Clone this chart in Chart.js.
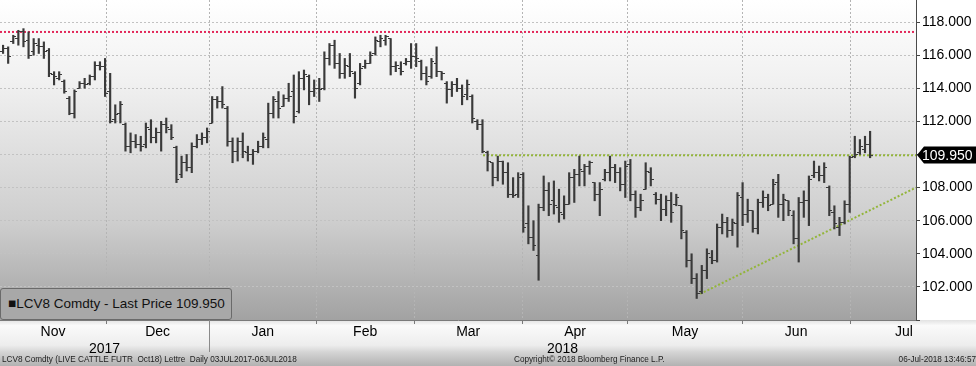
<!DOCTYPE html>
<html lang="fr">
<head>
<meta charset="utf-8">
<title>LCV8 Comdty</title>
<script src="https://cdn.jsdelivr.net/npm/chart.js@4.4.1/dist/chart.umd.min.js"></script>
<style>
  html, body { margin: 0; padding: 0; background: #fff; }
  #wrap { position: relative; width: 976px; height: 366px; overflow: hidden; font-family: "Liberation Sans", Arial, sans-serif; }
  #chart { position: absolute; left: 0; top: 0; }
  #legend { position: absolute; left: 0; top: 288px; width: 232px; height: 32px; box-sizing: border-box; background: #a8a8a8; border: 1px solid #6a6a6a; border-radius: 3px; font-size: 13.5px; line-height: 30px; padding-left: 7px; color: #111; white-space: nowrap; }
  .foot { position: absolute; top: 355px; font-size: 8.2px; line-height: 10px; color: #222; white-space: pre; }
</style>
</head>
<body>
<div id="wrap">
  <canvas id="chart" width="976" height="366"></canvas>
  <div id="legend"></div>
  <div class="foot" style="left:2px">LCV8 Comdty (LIVE CATTLE FUTR  Oct18) Lettre  Daily 03JUL2017-06JUL2018</div>
  <div class="foot" style="left:514px">Copyright© 2018 Bloomberg Finance L.P.</div>
  <div class="foot" style="right:0">06-Jul-2018 13:46:57</div>
</div>
<script>
// Cours journaliers LCV8 (une barre par séance, x = indice de séance)
var opens = [
  116.2, 116.4, 116.8, 117.0, 117.4, 116.9, 116.2, 116.6, 116.5, 116.3,
  114.8, 114.6, 114.4, 113.4, 112.5, 114.0, 114.3, 114.3, 114.7, 115.4,
  115.3, 113.8, 112.1, 112.5, 111.8, 110.5, 110.8, 110.6, 110.6, 111.5,
  111.0, 111.3, 111.8, 111.5, 110.4, 108.8, 109.5, 109.2, 110.5, 110.9,
  111.0, 111.9, 113.3, 113.2, 112.8, 110.8, 110.2, 110.8, 110.1, 110.0,
  110.2, 110.5, 110.9, 112.5, 113.2, 112.9, 113.4, 113.8, 112.6, 114.6,
  114.7, 113.8, 114.0, 114.0, 115.8, 116.6, 115.5, 114.9, 115.3, 114.9,
  114.3, 115.3, 115.5, 116.1, 116.8, 116.9, 117.0, 115.3, 115.2, 115.5,
  115.6, 115.9, 115.6, 114.9, 114.7, 115.5, 115.0, 114.3, 113.9, 114.2,
  114.0, 113.6, 113.5, 112.0, 111.8, 110.1, 109.5, 108.6, 109.6, 108.9,
  107.6, 107.6, 108.8, 105.8, 105.0, 103.9, 106.8, 107.8, 107.2, 106.8,
  106.4, 107.0, 108.6, 108.8, 109.0, 109.3, 108.3, 107.6, 108.5, 108.9,
  109.2, 108.9, 108.2, 109.4, 107.6, 106.8, 107.9, 108.9, 107.6, 107.3,
  106.7, 107.2, 107.0, 106.9, 105.3, 103.6, 102.5, 101.7, 103.0, 103.8,
  103.6, 105.6, 105.9, 105.4, 105.8, 107.4, 106.4, 106.6, 105.5, 107.1,
  107.4, 107.0, 108.3, 107.0, 107.2, 106.3, 104.9, 107.1, 107.2, 108.7,
  108.9, 108.7, 108.0, 106.5, 105.6, 105.9, 107.0, 109.9, 110.1, 110.3,
  110.6
];
var highs = [
  116.6, 116.5, 117.2, 117.5, 117.6, 117.4, 117.0, 117.0, 116.8, 116.4,
  115.0, 115.0, 114.5, 113.5, 113.9, 114.4, 114.6, 114.8, 115.6, 115.6,
  115.8, 114.9, 113.0, 113.2, 111.9, 111.3, 111.2, 111.1, 111.9, 112.1,
  111.6, 112.0, 112.2, 111.8, 110.5, 109.9, 110.0, 110.7, 111.2, 111.3,
  111.6, 113.5, 113.5, 114.1, 112.9, 111.0, 111.0, 111.3, 110.5, 110.3,
  110.8, 111.3, 113.1, 113.5, 113.8, 113.6, 114.3, 114.8, 115.0, 115.1,
  114.8, 114.5, 114.6, 116.2, 116.7, 116.9, 116.1, 115.8, 116.1, 115.0,
  115.5, 115.7, 116.2, 117.1, 117.2, 117.2, 117.0, 115.6, 115.6, 115.8,
  116.7, 116.7, 115.7, 115.3, 115.8, 116.5, 115.0, 114.4, 114.4, 114.6,
  114.2, 114.5, 113.6, 112.1, 112.1, 110.2, 109.5, 109.9, 109.6, 109.5,
  108.6, 108.9, 108.9, 106.9, 106.0, 107.0, 108.7, 108.3, 108.4, 107.9,
  107.5, 108.9, 109.1, 109.9, 109.4, 109.6, 108.3, 108.3, 109.1, 109.9,
  109.4, 109.2, 109.6, 109.7, 107.8, 107.6, 109.5, 109.2, 107.7, 107.6,
  107.5, 107.7, 107.6, 106.9, 105.4, 104.0, 102.8, 103.3, 104.3, 104.2,
  105.8, 106.4, 106.2, 106.1, 107.7, 108.3, 107.3, 106.6, 107.3, 107.8,
  107.6, 108.5, 108.8, 107.6, 107.2, 106.6, 107.4, 107.8, 108.7, 109.6,
  109.3, 109.5, 108.1, 106.9, 106.2, 107.2, 109.9, 111.1, 110.9, 111.1,
  111.4
];
var lows = [
  116.1, 115.5, 116.7, 116.6, 116.5, 115.8, 116.0, 116.1, 115.8, 114.7,
  114.2, 114.5, 113.7, 112.4, 112.2, 114.0, 114.0, 114.2, 114.5, 115.1,
  113.5, 111.9, 111.9, 111.9, 110.2, 110.1, 110.4, 110.2, 110.4, 110.7,
  110.7, 110.2, 111.3, 110.9, 108.3, 108.6, 109.0, 108.9, 110.4, 110.6,
  110.7, 111.9, 112.8, 112.8, 110.5, 109.5, 109.6, 109.8, 109.6, 109.4,
  110.1, 110.4, 110.4, 112.2, 112.2, 112.9, 113.2, 111.9, 112.5, 113.9,
  113.0, 113.5, 113.2, 113.9, 115.4, 115.2, 114.6, 114.6, 114.7, 113.4,
  114.2, 115.2, 115.5, 116.0, 116.5, 116.6, 114.8, 115.0, 114.8, 115.4,
  115.2, 115.3, 114.5, 114.2, 114.6, 114.7, 114.5, 113.1, 113.5, 113.8,
  113.0, 113.3, 111.9, 111.5, 110.1, 109.0, 108.1, 108.4, 108.2, 107.4,
  107.4, 107.4, 105.3, 104.6, 104.2, 102.4, 106.6, 106.3, 106.4, 105.9,
  106.1, 107.0, 107.1, 108.1, 108.1, 108.8, 107.2, 106.3, 108.4, 108.4,
  108.3, 107.8, 107.4, 107.2, 106.2, 106.6, 107.9, 108.1, 107.0, 106.0,
  106.3, 105.9, 106.9, 104.9, 103.2, 102.2, 101.3, 101.6, 102.5, 103.4,
  103.5, 105.2, 105.0, 105.1, 104.4, 105.7, 105.9, 105.3, 105.2, 106.8,
  106.6, 107.0, 106.2, 106.0, 106.3, 104.6, 103.5, 106.2, 105.7, 108.6,
  108.4, 108.3, 106.3, 105.5, 105.1, 105.8, 106.5, 109.8, 110.0, 110.1,
  109.8
];
var closes = [
  116.4, 115.9, 117.1, 117.4, 116.8, 116.0, 116.7, 116.5, 116.2, 114.9,
  114.7, 114.8, 113.8, 112.5, 113.8, 114.3, 114.2, 114.7, 115.4, 115.3,
  113.7, 112.0, 112.4, 113.0, 110.5, 110.8, 110.6, 110.5, 111.6, 111.0,
  111.3, 111.8, 111.6, 111.0, 108.5, 109.5, 109.2, 110.5, 110.9, 111.0,
  111.4, 113.3, 113.2, 113.0, 110.8, 110.2, 110.8, 110.2, 110.0, 110.2,
  110.5, 111.0, 112.5, 113.3, 112.8, 113.4, 113.5, 112.3, 114.6, 114.8,
  113.8, 114.0, 113.9, 115.8, 116.6, 115.5, 114.9, 115.4, 115.0, 114.0,
  115.2, 115.5, 116.0, 116.9, 117.0, 117.1, 115.3, 115.4, 115.0, 115.6,
  115.9, 115.8, 114.9, 114.4, 115.6, 115.0, 114.9, 113.9, 114.2, 114.0,
  113.5, 114.2, 112.2, 111.8, 110.2, 109.6, 108.6, 109.6, 108.9, 107.6,
  107.5, 108.6, 105.6, 105.0, 104.5, 106.8, 107.8, 107.0, 106.9, 106.5,
  107.0, 108.6, 108.8, 109.1, 109.3, 109.5, 107.6, 107.9, 108.9, 109.2,
  108.9, 108.2, 109.3, 107.6, 106.8, 107.2, 109.0, 108.5, 107.3, 106.7,
  107.2, 106.5, 107.4, 105.4, 103.6, 102.5, 101.6, 103.0, 104.0, 103.6,
  105.6, 105.9, 105.4, 105.9, 107.5, 106.4, 106.6, 105.5, 107.1, 107.4,
  106.9, 108.2, 107.0, 107.3, 106.6, 104.9, 107.1, 107.2, 108.5, 108.9,
  108.7, 109.2, 106.6, 105.8, 105.9, 107.0, 109.8, 110.0, 110.5, 110.6,
  109.95
];

// Axe x : débuts de mois et d'année, en indice de séance
var axisStart = -0.6;
var axisEnd = 179;
var monthNames = ["Nov", "Dec", "Jan", "Feb", "Mar", "Apr", "May", "Jun", "Jul"];
var monthStarts = [-0.6, 20.2, 40.4, 61.4, 80.6, 101.8, 122.5, 144.9, 166.1, 187.2];
var yearNames = ["2017", "2018"];
var yearStarts = [-0.6, 40.4, 179];

// Axe y
var yMin = 100;
var yMax = 119.33;
var yLabelled = [102, 104, 106, 108, 110, 112, 114, 116, 118];

// Lignes tracées sur le graphique
var resistX = [-0.6, 179];
var resistY = [117.4, 117.4];
var necklineX = [94.1, 179];
var necklineY = [109.95, 109.95];
var trendX = [136.7, 179];
var trendY = [101.58, 108.0];

var barColor = "#3a3a3a";
var red = "#e2275a";
var green = "#93b53a";
var lastPrice = closes[closes.length - 1];

document.getElementById("legend").textContent = "\u25A0LCV8 Comdty - Last Price " + lastPrice.toFixed(3);

// Petits traits d'ouverture (à gauche) et de clôture (à droite)
var makeTick = function (side) {
  var c = document.createElement("canvas");
  c.width = 6;
  c.height = 1;
  var g = c.getContext("2d");
  g.fillStyle = barColor;
  g.fillRect(side === "left" ? 0 : 3, 0, 3, 1);
  return c;
};
var openTick = makeTick("left");
var closeTick = makeTick("right");

var toPoints = function (xs, ys) {
  return xs.map(function (x, i) { return { x: x, y: ys[i] }; });
};

// Ticks de l'axe x : séparations de mois, noms de mois, années
var xTicks = [];
for (var m = 1; m < monthStarts.length - 1; m++) {
  xTicks.push({ value: monthStarts[m], kind: "bound", caption: "" });
}
monthNames.forEach(function (name, m) {
  xTicks.push({ value: (monthStarts[m] + monthStarts[m + 1]) / 2, kind: "month", caption: name });
});
yearNames.forEach(function (name, k) {
  xTicks.push({ value: (yearStarts[k] + yearStarts[k + 1]) / 2, kind: "year", caption: ["", name] });
});
xTicks.sort(function (a, b) { return a.value - b.value; });

var yTicks = [];
for (var v = yMin; v <= 119; v++) {
  yTicks.push({ value: v });
}

// Fonds, séparateur d'année et étiquette du dernier cours
var backdrop = {
  id: "backdrop",
  beforeDraw: function (chart) {
    var ctx = chart.ctx;
    var a = chart.chartArea;
    ctx.save();
    var g = ctx.createLinearGradient(0, a.bottom, 0, chart.height);
    g.addColorStop(0, "#e2e2e2");
    g.addColorStop(0.12, "#fafafa");
    g.addColorStop(0.55, "#ededed");
    g.addColorStop(0.7, "#d4d4d4");
    g.addColorStop(1, "#b2b2b2");
    ctx.fillStyle = g;
    ctx.fillRect(0, a.bottom, chart.width, chart.height - a.bottom);
    var g2 = ctx.createLinearGradient(0, a.top, 0, a.bottom);
    g2.addColorStop(0, "#ffffff");
    g2.addColorStop(0.25, "#f1f1f1");
    g2.addColorStop(0.7, "#cdcdcd");
    g2.addColorStop(1, "#a2a2a2");
    ctx.fillStyle = g2;
    ctx.fillRect(a.left, a.top, a.right - a.left, a.bottom - a.top);
    ctx.restore();
  },
  afterDraw: function (chart) {
    var ctx = chart.ctx;
    var a = chart.chartArea;
    var sx = Math.round(chart.scales.x.getPixelForValue(yearStarts[1])) + 0.5;
    var py = Math.round(chart.scales.y.getPixelForValue(lastPrice));
    ctx.save();
    ctx.strokeStyle = "#8a8a8a";
    ctx.lineWidth = 1;
    ctx.beginPath();
    ctx.moveTo(sx, a.bottom);
    ctx.lineTo(sx, a.bottom + 32);
    ctx.stroke();

    ctx.fillStyle = "#000";
    ctx.beginPath();
    ctx.moveTo(a.right + 1, py);
    ctx.lineTo(a.right + 8, py - 8.5);
    ctx.lineTo(chart.width, py - 8.5);
    ctx.lineTo(chart.width, py + 8.5);
    ctx.lineTo(a.right + 8, py + 8.5);
    ctx.closePath();
    ctx.fill();
    ctx.fillStyle = "#fff";
    ctx.font = '14px "Liberation Sans", Arial, sans-serif';
    ctx.textBaseline = "middle";
    ctx.textAlign = "left";
    ctx.fillText(lastPrice.toFixed(3), a.right + 6, py + 1);
    ctx.restore();
  }
};

Chart.defaults.font.family = '"Liberation Sans", Arial, sans-serif';
Chart.defaults.font.size = 14;
Chart.defaults.color = "#000";

new Chart(document.getElementById("chart"), {
  type: "bar",
  data: {
    datasets: [
      {
        type: "bar",
        data: highs.map(function (h, i) { return { x: i, y: [lows[i], h] }; }),
        backgroundColor: barColor,
        barThickness: 1.5,
        order: 1
      },
      {
        type: "line",
        data: opens.map(function (o, i) { return { x: i, y: o }; }),
        showLine: false,
        pointStyle: openTick,
        pointRadius: 4,
        order: 1
      },
      {
        type: "line",
        data: closes.map(function (c, i) { return { x: i, y: c }; }),
        showLine: false,
        pointStyle: closeTick,
        pointRadius: 4,
        order: 1
      },
      {
        type: "line",
        data: toPoints(resistX, resistY),
        borderColor: red,
        borderWidth: 2,
        borderDash: [2, 2],
        pointRadius: 0,
        order: 2
      },
      {
        type: "line",
        data: toPoints(necklineX, necklineY),
        borderColor: green,
        borderWidth: 2,
        borderDash: [2, 2],
        pointRadius: 0,
        order: 2
      },
      {
        type: "line",
        data: toPoints(trendX, trendY),
        borderColor: green,
        borderWidth: 2,
        borderDash: [2, 2],
        pointRadius: 0,
        order: 2
      }
    ]
  },
  options: {
    responsive: false,
    devicePixelRatio: 1,
    animation: false,
    events: [],
    layout: { padding: 0, autoPadding: false },
    plugins: {
      legend: { display: false },
      tooltip: { enabled: false }
    },
    scales: {
      x: {
        type: "linear",
        offset: false,
        min: axisStart,
        max: axisEnd,
        afterBuildTicks: function (s) { s.ticks = xTicks.map(function (t) { return { value: t.value }; }); },
        afterFit: function (s) { s.height = 46; s.paddingLeft = 0; s.paddingRight = 0; },
        ticks: {
          autoSkip: false,
          maxRotation: 0,
          padding: 0,
          callback: function (value, index) { return xTicks[index].caption; }
        },
        grid: {
          offset: false,
          color: function (c) { return c.tick && xTicks[c.index] && xTicks[c.index].kind === "bound" ? "#b4b4b4" : "rgba(0,0,0,0)"; },
          tickColor: function (c) { return c.tick && xTicks[c.index] && xTicks[c.index].kind === "bound" ? "#7a7a7a" : "rgba(0,0,0,0)"; },
          tickLength: 4
        },
        border: { color: "#7a7a7a", dash: [2, 2] }
      },
      y: {
        position: "right",
        min: yMin,
        max: yMax,
        afterBuildTicks: function (s) { s.ticks = yTicks.slice(); },
        afterFit: function (s) { s.width = 60; s.paddingTop = 0; s.paddingBottom = 0; },
        ticks: {
          padding: 2,
          callback: function (value) { return yLabelled.indexOf(value) >= 0 ? value.toFixed(3) : ""; }
        },
        grid: {
          color: function (c) { return c.tick && yLabelled.indexOf(c.tick.value) >= 0 ? "#c2c2c2" : "rgba(0,0,0,0)"; },
          tickColor: "#444",
          tickLength: 4
        },
        border: { color: "#4a4a4a", dash: [2, 2] }
      }
    }
  },
  plugins: [backdrop]
});
</script>
</body>
</html>
